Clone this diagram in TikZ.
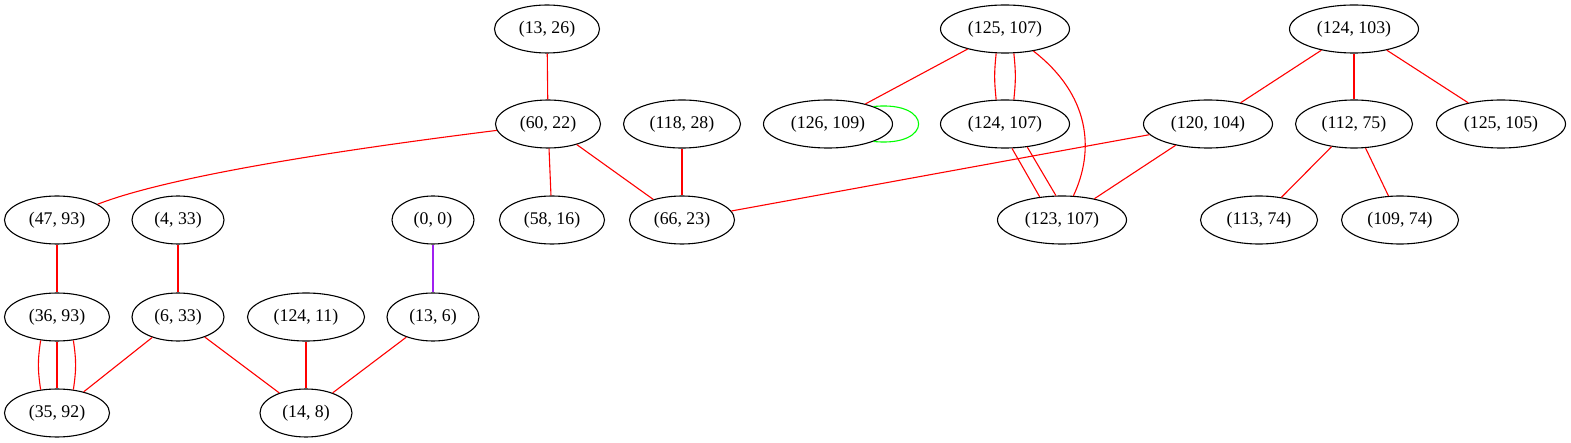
\documentclass[tikz,border=0pt]{standalone}
\usepackage{fontspec}
\setmainfont{Liberation Serif}
\usetikzlibrary{shapes.geometric}
\definecolor{gvred}{RGB}{255,0,0}
\definecolor{gvgreen}{RGB}{0,255,0}
\definecolor{gvpurple}{RGB}{160,32,240}
\tikzset{
  gv/.style={ellipse, draw=black, line width=1.1pt, inner sep=0pt, minimum height=48pt, font=\fontsize{17.8}{21}\selectfont},
  w6/.style={gv, minimum width=82pt},
  w7/.style={gv, minimum width=92pt},
  w8/.style={gv, minimum width=105pt},
  w9/.style={gv, minimum width=117pt},
  w10/.style={gv, minimum width=129pt},
  re/.style={draw=gvred, line width=1.1pt},
  ge/.style={draw=gvgreen, line width=1.1pt},
  pe/.style={draw=gvpurple, line width=1.1pt}
}
\begin{document}
\begin{tikzpicture}[x=1pt,y=-1pt]
\useasboundingbox (0,0) rectangle (1571,443);
% row 1
\node[w8]  (a1326)  at (547,29)   {(13, 26)};
\node[w10] (a125107) at (1005,29) {(125, 107)};
\node[w10] (a124103) at (1354,29) {(124, 103)};
% row 2
\node[w8]  (a6022)  at (548,124)  {(60, 22)};
\node[w9]  (a11828) at (682,124)  {(118, 28)};
\node[w10] (a126109) at (828,124) {(126, 109)};
\node[w10] (a124107) at (1005,124) {(124, 107)};
\node[w10] (a120104) at (1208,124) {(120, 104)};
\node[w9]  (a11275) at (1354,124) {(112, 75)};
\node[w10] (a125105) at (1501,124) {(125, 105)};
% row 3
\node[w8]  (a4793)  at (57,220)   {(47, 93)};
\node[w7]  (a433)   at (178,220)  {(4, 33)};
\node[w6]  (a00)    at (433,220)  {(0, 0)};
\node[w8]  (a5816)  at (552,220)  {(58, 16)};
\node[w8]  (a6623)  at (682,220)  {(66, 23)};
\node[w10] (a123107) at (1062,220) {(123, 107)};
\node[w9]  (a11374) at (1259,220) {(113, 74)};
\node[w9]  (a10974) at (1400,220) {(109, 74)};
% row 4
\node[w8]  (a3693)  at (57,317)   {(36, 93)};
\node[w7]  (a633)   at (178,317)  {(6, 33)};
\node[w9]  (a12411) at (306,317)  {(124, 11)};
\node[w7]  (a136)   at (433,317)  {(13, 6)};
% row 5
\node[w8]  (a3592)  at (57,413)   {(35, 92)};
\node[w7]  (a148)   at (306,413)  {(14, 8)};
% edges
\draw[re] (a1326) -- (a6022);
\draw[re] (a6022) .. controls (300,155) and (160,180) .. (a4793);
\draw[re] (a6022) -- (a5816);
\draw[re] (a6022) -- (a6623);
\draw[re] (a11828) -- (a6623);
\draw[re] (a125107) -- (a126109);
\draw[ge] (a126109.21) .. controls +(60,-6) and +(60,6) .. (a126109.-21);
\draw[re] (a125107.-110) .. controls +(-2,20) and +(-2,-20) .. (a124107.110);
\draw[re] (a125107.-70) .. controls +(2,20) and +(2,-20) .. (a124107.70);
\draw[re] (a125107) .. controls (1090,95) and (1095,150) .. (a123107);
\draw[re] (a124107.-74) -- (a123107.134);
\draw[re] (a124107.-46) -- (a123107.104);
\draw[re] (a124103) -- (a120104);
\draw[re] (a124103) -- (a11275);
\draw[re] (a124103) -- (a125105);
\draw[re] (a120104) -- (a6623);
\draw[re] (a120104) -- (a123107);
\draw[re] (a11275) -- (a11374);
\draw[re] (a11275) -- (a10974);
\draw[re] (a4793) -- (a3693);
\draw[re] (a3693.-125) .. controls +(-3,20) and +(-3,-20) .. (a3592.125);
\draw[re] (a3693) -- (a3592);
\draw[re] (a3693.-55) .. controls +(3,20) and +(3,-20) .. (a3592.55);
\draw[re] (a433) -- (a633);
\draw[re] (a633) -- (a3592);
\draw[re] (a633) -- (a148);
\draw[re] (a12411) -- (a148);
\draw[pe] (a00) -- (a136);
\draw[re] (a136) -- (a148);
\end{tikzpicture}
\end{document}
